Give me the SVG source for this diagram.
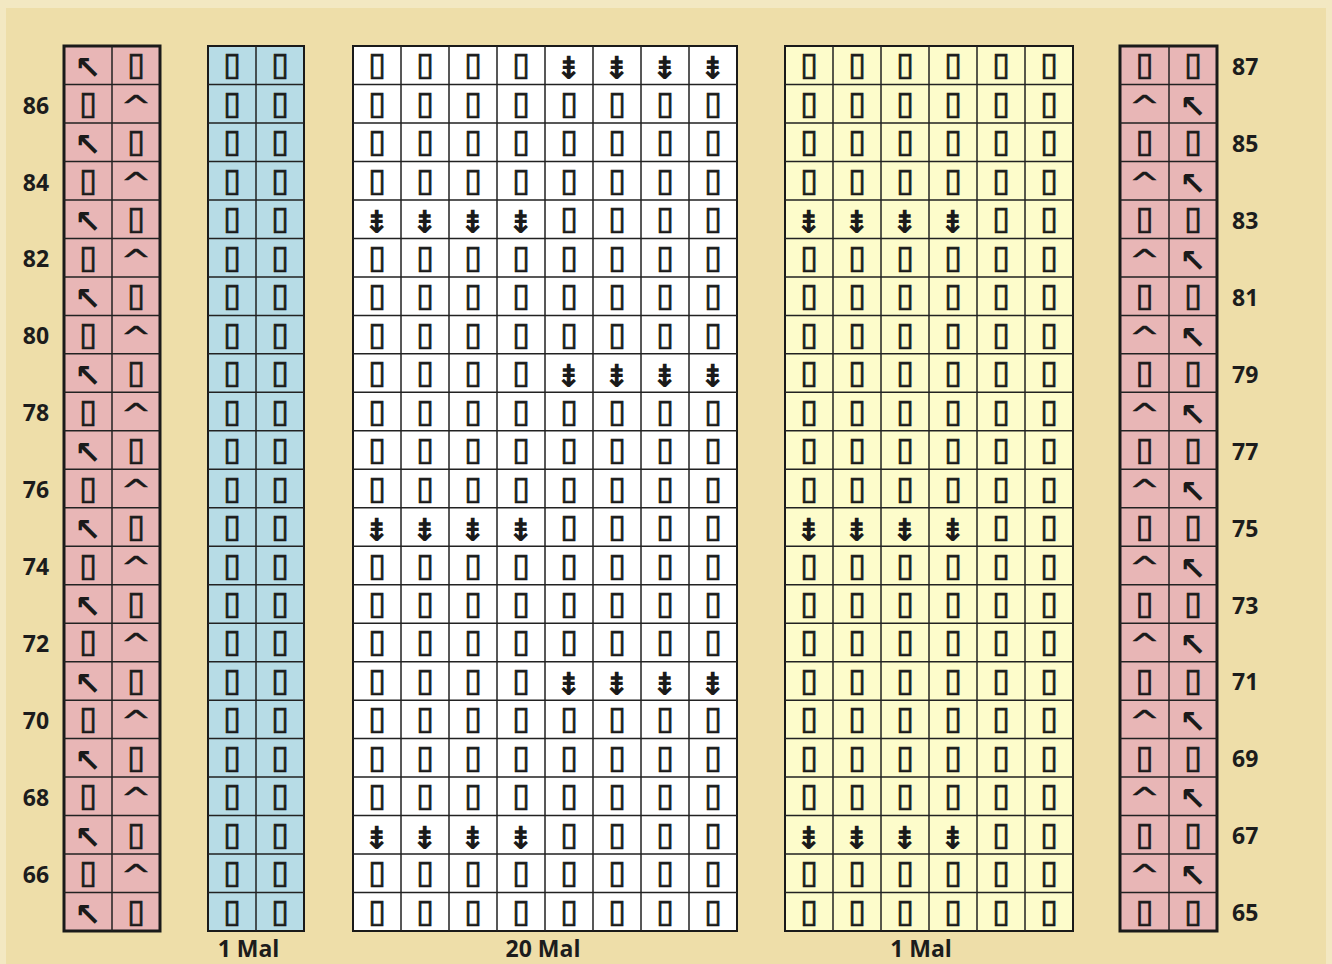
<svg xmlns="http://www.w3.org/2000/svg" width="1332" height="964" viewBox="0 0 1332 964">
<style>
.s{font-family:"DejaVu Sans",sans-serif;text-anchor:middle;fill:#1a1a1a}
.bx{font-size:32px;stroke:#1a1a1a;stroke-width:0.8;transform:translateY(10px)}
.ar{font-size:32px;font-weight:bold;transform:translateY(14px)}
.ca{font-size:28px;stroke:#1a1a1a;stroke-width:0.5;transform-box:fill-box;transform-origin:center;transform:translateY(12px) scale(1.3,1)}
.dd{font-size:32px;font-weight:bold;transform:translateY(14px)}
.num{font-family:"Open Sans","Liberation Sans",sans-serif;font-weight:bold;font-size:23px;fill:#1c1c1c}
.lab{font-family:"Open Sans","Liberation Sans",sans-serif;font-weight:bold;font-size:23px;fill:#1c1c1c;text-anchor:middle}
.in{fill:none;stroke:#222;stroke-width:1.5}
.pk{fill:#E8B6B6;stroke:#1a1a1a;stroke-width:3}
.bl{fill:#B7DCE6;stroke:#1a1a1a;stroke-width:2}
.wh{fill:#FFFFFF;stroke:#1a1a1a;stroke-width:2}
.ye{fill:#FDFCCB;stroke:#1a1a1a;stroke-width:2}
</style>
<rect x="0" y="0" width="1332" height="964" fill="#F3E8C2"/>
<rect x="6" y="8" width="1320" height="956" fill="#EEDEA9"/>

<g id="left-edge">
<rect class="pk" x="64" y="46" width="96" height="885"/>
<path class="in" d="M112 46V931M64 84.5H160M64 123H160M64 161.4H160M64 199.9H160M64 238.4H160M64 276.9H160M64 315.4H160M64 353.8H160M64 392.3H160M64 430.8H160M64 469.3H160M64 507.8H160M64 546.2H160M64 584.7H160M64 623.2H160M64 661.7H160M64 700.2H160M64 738.6H160M64 777.1H160M64 815.6H160M64 854.1H160M64 892.6H160"/>
<text class="s ar" x="88" y="65.2">↖</text><text class="s bx" x="136" y="65.2">▯</text>
<text class="s bx" x="88" y="103.7">▯</text><text class="s ca" x="136" y="103.7">^</text>
<text class="s ar" x="88" y="142.2">↖</text><text class="s bx" x="136" y="142.2">▯</text>
<text class="s bx" x="88" y="180.7">▯</text><text class="s ca" x="136" y="180.7">^</text>
<text class="s ar" x="88" y="219.2">↖</text><text class="s bx" x="136" y="219.2">▯</text>
<text class="s bx" x="88" y="257.6">▯</text><text class="s ca" x="136" y="257.6">^</text>
<text class="s ar" x="88" y="296.1">↖</text><text class="s bx" x="136" y="296.1">▯</text>
<text class="s bx" x="88" y="334.6">▯</text><text class="s ca" x="136" y="334.6">^</text>
<text class="s ar" x="88" y="373.1">↖</text><text class="s bx" x="136" y="373.1">▯</text>
<text class="s bx" x="88" y="411.6">▯</text><text class="s ca" x="136" y="411.6">^</text>
<text class="s ar" x="88" y="450">↖</text><text class="s bx" x="136" y="450">▯</text>
<text class="s bx" x="88" y="488.5">▯</text><text class="s ca" x="136" y="488.5">^</text>
<text class="s ar" x="88" y="527">↖</text><text class="s bx" x="136" y="527">▯</text>
<text class="s bx" x="88" y="565.5">▯</text><text class="s ca" x="136" y="565.5">^</text>
<text class="s ar" x="88" y="604">↖</text><text class="s bx" x="136" y="604">▯</text>
<text class="s bx" x="88" y="642.4">▯</text><text class="s ca" x="136" y="642.4">^</text>
<text class="s ar" x="88" y="680.9">↖</text><text class="s bx" x="136" y="680.9">▯</text>
<text class="s bx" x="88" y="719.4">▯</text><text class="s ca" x="136" y="719.4">^</text>
<text class="s ar" x="88" y="757.9">↖</text><text class="s bx" x="136" y="757.9">▯</text>
<text class="s bx" x="88" y="796.4">▯</text><text class="s ca" x="136" y="796.4">^</text>
<text class="s ar" x="88" y="834.8">↖</text><text class="s bx" x="136" y="834.8">▯</text>
<text class="s bx" x="88" y="873.3">▯</text><text class="s ca" x="136" y="873.3">^</text>
<text class="s ar" x="88" y="911.8">↖</text><text class="s bx" x="136" y="911.8">▯</text>
</g>

<g id="block-1mal-left">
<rect class="bl" x="208" y="46" width="96" height="885"/>
<path class="in" d="M256 46V931M208 84.5H304M208 123H304M208 161.4H304M208 199.9H304M208 238.4H304M208 276.9H304M208 315.4H304M208 353.8H304M208 392.3H304M208 430.8H304M208 469.3H304M208 507.8H304M208 546.2H304M208 584.7H304M208 623.2H304M208 661.7H304M208 700.2H304M208 738.6H304M208 777.1H304M208 815.6H304M208 854.1H304M208 892.6H304"/>
<text class="s bx" x="232 280" y="65.2">▯▯</text>
<text class="s bx" x="232 280" y="103.7">▯▯</text>
<text class="s bx" x="232 280" y="142.2">▯▯</text>
<text class="s bx" x="232 280" y="180.7">▯▯</text>
<text class="s bx" x="232 280" y="219.2">▯▯</text>
<text class="s bx" x="232 280" y="257.6">▯▯</text>
<text class="s bx" x="232 280" y="296.1">▯▯</text>
<text class="s bx" x="232 280" y="334.6">▯▯</text>
<text class="s bx" x="232 280" y="373.1">▯▯</text>
<text class="s bx" x="232 280" y="411.6">▯▯</text>
<text class="s bx" x="232 280" y="450">▯▯</text>
<text class="s bx" x="232 280" y="488.5">▯▯</text>
<text class="s bx" x="232 280" y="527">▯▯</text>
<text class="s bx" x="232 280" y="565.5">▯▯</text>
<text class="s bx" x="232 280" y="604">▯▯</text>
<text class="s bx" x="232 280" y="642.4">▯▯</text>
<text class="s bx" x="232 280" y="680.9">▯▯</text>
<text class="s bx" x="232 280" y="719.4">▯▯</text>
<text class="s bx" x="232 280" y="757.9">▯▯</text>
<text class="s bx" x="232 280" y="796.4">▯▯</text>
<text class="s bx" x="232 280" y="834.8">▯▯</text>
<text class="s bx" x="232 280" y="873.3">▯▯</text>
<text class="s bx" x="232 280" y="911.8">▯▯</text>
</g>

<g id="block-20mal">
<rect class="wh" x="353" y="46" width="384" height="885"/>
<path class="in" d="M401 46V931M449 46V931M497 46V931M545 46V931M593 46V931M641 46V931M689 46V931M353 84.5H737M353 123H737M353 161.4H737M353 199.9H737M353 238.4H737M353 276.9H737M353 315.4H737M353 353.8H737M353 392.3H737M353 430.8H737M353 469.3H737M353 507.8H737M353 546.2H737M353 584.7H737M353 623.2H737M353 661.7H737M353 700.2H737M353 738.6H737M353 777.1H737M353 815.6H737M353 854.1H737M353 892.6H737"/>
<text class="s bx" x="377 425 473 521" y="65.2">▯▯▯▯</text><text class="s dd" x="569 617 665 713" y="65.2">⇟⇟⇟⇟</text>
<text class="s bx" x="377 425 473 521 569 617 665 713" y="103.7">▯▯▯▯▯▯▯▯</text>
<text class="s bx" x="377 425 473 521 569 617 665 713" y="142.2">▯▯▯▯▯▯▯▯</text>
<text class="s bx" x="377 425 473 521 569 617 665 713" y="180.7">▯▯▯▯▯▯▯▯</text>
<text class="s dd" x="377 425 473 521" y="219.2">⇟⇟⇟⇟</text><text class="s bx" x="569 617 665 713" y="219.2">▯▯▯▯</text>
<text class="s bx" x="377 425 473 521 569 617 665 713" y="257.6">▯▯▯▯▯▯▯▯</text>
<text class="s bx" x="377 425 473 521 569 617 665 713" y="296.1">▯▯▯▯▯▯▯▯</text>
<text class="s bx" x="377 425 473 521 569 617 665 713" y="334.6">▯▯▯▯▯▯▯▯</text>
<text class="s bx" x="377 425 473 521" y="373.1">▯▯▯▯</text><text class="s dd" x="569 617 665 713" y="373.1">⇟⇟⇟⇟</text>
<text class="s bx" x="377 425 473 521 569 617 665 713" y="411.6">▯▯▯▯▯▯▯▯</text>
<text class="s bx" x="377 425 473 521 569 617 665 713" y="450">▯▯▯▯▯▯▯▯</text>
<text class="s bx" x="377 425 473 521 569 617 665 713" y="488.5">▯▯▯▯▯▯▯▯</text>
<text class="s dd" x="377 425 473 521" y="527">⇟⇟⇟⇟</text><text class="s bx" x="569 617 665 713" y="527">▯▯▯▯</text>
<text class="s bx" x="377 425 473 521 569 617 665 713" y="565.5">▯▯▯▯▯▯▯▯</text>
<text class="s bx" x="377 425 473 521 569 617 665 713" y="604">▯▯▯▯▯▯▯▯</text>
<text class="s bx" x="377 425 473 521 569 617 665 713" y="642.4">▯▯▯▯▯▯▯▯</text>
<text class="s bx" x="377 425 473 521" y="680.9">▯▯▯▯</text><text class="s dd" x="569 617 665 713" y="680.9">⇟⇟⇟⇟</text>
<text class="s bx" x="377 425 473 521 569 617 665 713" y="719.4">▯▯▯▯▯▯▯▯</text>
<text class="s bx" x="377 425 473 521 569 617 665 713" y="757.9">▯▯▯▯▯▯▯▯</text>
<text class="s bx" x="377 425 473 521 569 617 665 713" y="796.4">▯▯▯▯▯▯▯▯</text>
<text class="s dd" x="377 425 473 521" y="834.8">⇟⇟⇟⇟</text><text class="s bx" x="569 617 665 713" y="834.8">▯▯▯▯</text>
<text class="s bx" x="377 425 473 521 569 617 665 713" y="873.3">▯▯▯▯▯▯▯▯</text>
<text class="s bx" x="377 425 473 521 569 617 665 713" y="911.8">▯▯▯▯▯▯▯▯</text>
</g>

<g id="block-1mal-right">
<rect class="ye" x="785" y="46" width="288" height="885"/>
<path class="in" d="M833 46V931M881 46V931M929 46V931M977 46V931M1025 46V931M785 84.5H1073M785 123H1073M785 161.4H1073M785 199.9H1073M785 238.4H1073M785 276.9H1073M785 315.4H1073M785 353.8H1073M785 392.3H1073M785 430.8H1073M785 469.3H1073M785 507.8H1073M785 546.2H1073M785 584.7H1073M785 623.2H1073M785 661.7H1073M785 700.2H1073M785 738.6H1073M785 777.1H1073M785 815.6H1073M785 854.1H1073M785 892.6H1073"/>
<text class="s bx" x="809 857 905 953 1001 1049" y="65.2">▯▯▯▯▯▯</text>
<text class="s bx" x="809 857 905 953 1001 1049" y="103.7">▯▯▯▯▯▯</text>
<text class="s bx" x="809 857 905 953 1001 1049" y="142.2">▯▯▯▯▯▯</text>
<text class="s bx" x="809 857 905 953 1001 1049" y="180.7">▯▯▯▯▯▯</text>
<text class="s dd" x="809 857 905 953" y="219.2">⇟⇟⇟⇟</text><text class="s bx" x="1001 1049" y="219.2">▯▯</text>
<text class="s bx" x="809 857 905 953 1001 1049" y="257.6">▯▯▯▯▯▯</text>
<text class="s bx" x="809 857 905 953 1001 1049" y="296.1">▯▯▯▯▯▯</text>
<text class="s bx" x="809 857 905 953 1001 1049" y="334.6">▯▯▯▯▯▯</text>
<text class="s bx" x="809 857 905 953 1001 1049" y="373.1">▯▯▯▯▯▯</text>
<text class="s bx" x="809 857 905 953 1001 1049" y="411.6">▯▯▯▯▯▯</text>
<text class="s bx" x="809 857 905 953 1001 1049" y="450">▯▯▯▯▯▯</text>
<text class="s bx" x="809 857 905 953 1001 1049" y="488.5">▯▯▯▯▯▯</text>
<text class="s dd" x="809 857 905 953" y="527">⇟⇟⇟⇟</text><text class="s bx" x="1001 1049" y="527">▯▯</text>
<text class="s bx" x="809 857 905 953 1001 1049" y="565.5">▯▯▯▯▯▯</text>
<text class="s bx" x="809 857 905 953 1001 1049" y="604">▯▯▯▯▯▯</text>
<text class="s bx" x="809 857 905 953 1001 1049" y="642.4">▯▯▯▯▯▯</text>
<text class="s bx" x="809 857 905 953 1001 1049" y="680.9">▯▯▯▯▯▯</text>
<text class="s bx" x="809 857 905 953 1001 1049" y="719.4">▯▯▯▯▯▯</text>
<text class="s bx" x="809 857 905 953 1001 1049" y="757.9">▯▯▯▯▯▯</text>
<text class="s bx" x="809 857 905 953 1001 1049" y="796.4">▯▯▯▯▯▯</text>
<text class="s dd" x="809 857 905 953" y="834.8">⇟⇟⇟⇟</text><text class="s bx" x="1001 1049" y="834.8">▯▯</text>
<text class="s bx" x="809 857 905 953 1001 1049" y="873.3">▯▯▯▯▯▯</text>
<text class="s bx" x="809 857 905 953 1001 1049" y="911.8">▯▯▯▯▯▯</text>
</g>

<g id="right-edge">
<rect class="pk" x="1120" y="46" width="97" height="885"/>
<path class="in" d="M1169 46V931M1120 84.5H1217M1120 123H1217M1120 161.4H1217M1120 199.9H1217M1120 238.4H1217M1120 276.9H1217M1120 315.4H1217M1120 353.8H1217M1120 392.3H1217M1120 430.8H1217M1120 469.3H1217M1120 507.8H1217M1120 546.2H1217M1120 584.7H1217M1120 623.2H1217M1120 661.7H1217M1120 700.2H1217M1120 738.6H1217M1120 777.1H1217M1120 815.6H1217M1120 854.1H1217M1120 892.6H1217"/>
<text class="s bx" x="1144.5 1193" y="65.2">▯▯</text>
<text class="s ca" x="1144.5" y="103.7">^</text><text class="s ar" x="1193" y="103.7">↖</text>
<text class="s bx" x="1144.5 1193" y="142.2">▯▯</text>
<text class="s ca" x="1144.5" y="180.7">^</text><text class="s ar" x="1193" y="180.7">↖</text>
<text class="s bx" x="1144.5 1193" y="219.2">▯▯</text>
<text class="s ca" x="1144.5" y="257.6">^</text><text class="s ar" x="1193" y="257.6">↖</text>
<text class="s bx" x="1144.5 1193" y="296.1">▯▯</text>
<text class="s ca" x="1144.5" y="334.6">^</text><text class="s ar" x="1193" y="334.6">↖</text>
<text class="s bx" x="1144.5 1193" y="373.1">▯▯</text>
<text class="s ca" x="1144.5" y="411.6">^</text><text class="s ar" x="1193" y="411.6">↖</text>
<text class="s bx" x="1144.5 1193" y="450">▯▯</text>
<text class="s ca" x="1144.5" y="488.5">^</text><text class="s ar" x="1193" y="488.5">↖</text>
<text class="s bx" x="1144.5 1193" y="527">▯▯</text>
<text class="s ca" x="1144.5" y="565.5">^</text><text class="s ar" x="1193" y="565.5">↖</text>
<text class="s bx" x="1144.5 1193" y="604">▯▯</text>
<text class="s ca" x="1144.5" y="642.4">^</text><text class="s ar" x="1193" y="642.4">↖</text>
<text class="s bx" x="1144.5 1193" y="680.9">▯▯</text>
<text class="s ca" x="1144.5" y="719.4">^</text><text class="s ar" x="1193" y="719.4">↖</text>
<text class="s bx" x="1144.5 1193" y="757.9">▯▯</text>
<text class="s ca" x="1144.5" y="796.4">^</text><text class="s ar" x="1193" y="796.4">↖</text>
<text class="s bx" x="1144.5 1193" y="834.8">▯▯</text>
<text class="s ca" x="1144.5" y="873.3">^</text><text class="s ar" x="1193" y="873.3">↖</text>
<text class="s bx" x="1144.5 1193" y="911.8">▯▯</text>
</g>

<g id="row-numbers-left" class="num" text-anchor="middle">
<text x="36" y="113.5">86</text>
<text x="36" y="190.5">84</text>
<text x="36" y="267.4">82</text>
<text x="36" y="344.4">80</text>
<text x="36" y="421.4">78</text>
<text x="36" y="498.3">76</text>
<text x="36" y="575.3">74</text>
<text x="36" y="652.2">72</text>
<text x="36" y="729.2">70</text>
<text x="36" y="806.2">68</text>
<text x="36" y="883.1">66</text>
</g>

<g id="row-numbers-right" class="num">
<text x="1232" y="74.7">87</text>
<text x="1232" y="151.7">85</text>
<text x="1232" y="228.7">83</text>
<text x="1232" y="305.6">81</text>
<text x="1232" y="382.6">79</text>
<text x="1232" y="459.5">77</text>
<text x="1232" y="536.5">75</text>
<text x="1232" y="613.5">73</text>
<text x="1232" y="690.4">71</text>
<text x="1232" y="767.4">69</text>
<text x="1232" y="844.3">67</text>
<text x="1232" y="921.3">65</text>
</g>

<g id="repeat-labels">
<text class="lab" x="248.5" y="957">1 Mal</text>
<text class="lab" x="543" y="957">20 Mal</text>
<text class="lab" x="921" y="957">1 Mal</text>
</g>
</svg>
